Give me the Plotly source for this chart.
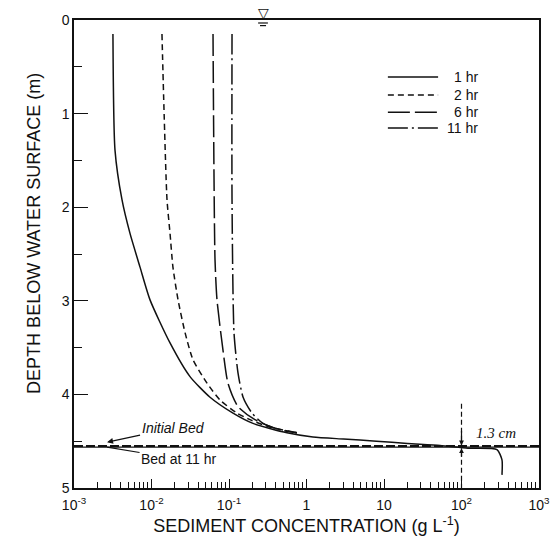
import plotly.graph_objects as go
import numpy as np

# ---- data ----
conc_1hr = [0.00318, 0.00338, 0.00416, 0.00528, 0.00711, 0.00957, 0.01734, 0.0314, 0.0569, 0.1127, 0.204, 0.56, 1.21, 3.0, 8.0, 20.0, 52.8, 121, 287, 333, 333]
depth_1hr = [0.15, 1.39, 1.92, 2.28, 2.64, 2.99, 3.45, 3.81, 4.03, 4.20, 4.31, 4.41, 4.455, 4.477, 4.50, 4.524, 4.545, 4.575, 4.59, 4.70, 4.86]

conc_2hr = [0.01365, 0.0145, 0.01585, 0.01734, 0.0189, 0.022, 0.0271, 0.0343, 0.052, 0.0766, 0.1268, 0.1866, 0.338, 0.753]
depth_2hr = [0.15, 0.96, 1.92, 2.28, 2.64, 2.99, 3.34, 3.63, 3.88, 4.06, 4.20, 4.27, 4.35, 4.41]

conc_6hr = [0.0622, 0.066, 0.070, 0.0837, 0.097, 0.1306, 0.216, 0.393, 0.753]
depth_6hr = [0.15, 2.56, 2.99, 3.53, 3.88, 4.13, 4.27, 4.36, 4.41]

conc_11hr = [0.1094, 0.1094, 0.116, 0.1306, 0.152, 0.198, 0.275, 0.455, 0.753]
depth_11hr = [0.15, 1.92, 3.34, 3.77, 4.03, 4.20, 4.31, 4.38, 4.41]

bed_conc = [1e-3, 1e3]
initial_bed_depth = [4.55, 4.55]
bed_11hr_depth = [4.563, 4.563]

marker_conc = [100, 100]
marker_depth = [4.1, 5.0]

series_names = ["1 hr", "2 hr", "6 hr", "11 hr"]
x_tick_vals = [1e-3, 1e-2, 1e-1, 1, 10, 1e2, 1e3]
x_tick_text = ["10<sup>-3</sup>", "10<sup>-2</sup>", "10<sup>-1</sup>", "1", "10", "10<sup>2</sup>", "10<sup>3</sup>"]
y_tick_vals = [0, 1, 2, 3, 4, 5]
y_minor_vals = [0.5, 1.5, 2.5, 3.5, 4.5]

x_minor_vals = [m * 10.0 ** e for e in range(-3, 3) for m in range(2, 10)]

# ---- styles ----
INK = "#111111"
FONT = "Liberation Sans, Arial, Helvetica, sans-serif"
dashes = ["solid", "6px,4px", "22px,5px", "20px,4px,2px,4px"]

fig = go.Figure()

series = [(conc_1hr, depth_1hr), (conc_2hr, depth_2hr), (conc_6hr, depth_6hr), (conc_11hr, depth_11hr)]
for (cx, dy), name, dsh in zip(series, series_names, dashes):
    fig.add_trace(go.Scatter(x=cx, y=dy, mode="lines", name=name,
                             line=dict(color=INK, width=1.5, dash=dsh, shape="spline", smoothing=0.6),
                             showlegend=False))

fig.add_trace(go.Scatter(x=bed_conc, y=initial_bed_depth, mode="lines",
                         line=dict(color=INK, width=2, dash="9px,3px"), showlegend=False))
fig.add_trace(go.Scatter(x=bed_conc, y=bed_11hr_depth, mode="lines",
                         line=dict(color=INK, width=1.3), showlegend=False))
fig.add_trace(go.Scatter(x=marker_conc, y=marker_depth, mode="lines",
                         line=dict(color=INK, width=1.2, dash="5px,3px"), showlegend=False))

fig.update_xaxes(type="log", range=[-3, 3], showgrid=False, zeroline=False, automargin=False,
                 showline=True, linecolor=INK, linewidth=1.5, mirror=True,
                 ticks="inside", ticklen=9, tickwidth=1.2, tickcolor=INK,
                 tickvals=x_tick_vals, ticktext=x_tick_text, ticklabelstandoff=3,
                 tickfont=dict(family=FONT, size=14, color=INK),
                 minor=dict(tickvals=x_minor_vals, ticks="inside", ticklen=6, tickwidth=1, tickcolor=INK),
                 title=dict(text="SEDIMENT CONCENTRATION (g L<sup>-1</sup>)",
                            font=dict(family=FONT, size=18, color=INK), standoff=8))
fig.update_yaxes(range=[5, 0], showgrid=False, zeroline=False, automargin=False,
                 showline=True, linecolor=INK, linewidth=1.5, mirror=True,
                 ticks="inside", ticklen=14, tickwidth=1.2, tickcolor=INK,
                 tickvals=y_tick_vals, ticktext=[str(v) for v in y_tick_vals],
                 tickfont=dict(family=FONT, size=14, color=INK),
                 minor=dict(tickvals=y_minor_vals, ticks="inside", ticklen=8, tickwidth=1, tickcolor=INK))

# y-axis title placed as in the reference (slightly above centre)
fig.add_annotation(xref="paper", yref="paper", x=-0.086, y=0.543, text="DEPTH BELOW WATER SURFACE (m)",
                   textangle=-90, showarrow=False, xanchor="center", yanchor="middle",
                   font=dict(family=FONT, size=18, color=INK))

# ---- legend drawn by hand ----
leg_y = [0.878, 0.840, 0.803, 0.769]
for name, dsh, yy in zip(series_names, dashes, leg_y):
    fig.add_shape(type="line", xref="paper", yref="paper", x0=0.675, x1=0.783, y0=yy, y1=yy,
                  line=dict(color=INK, width=1.5, dash=dsh))
    fig.add_annotation(xref="paper", yref="paper", x=0.874, y=yy, text=name, showarrow=False,
                       xanchor="right", yanchor="middle", font=dict(family=FONT, size=14, color=INK))

# ---- annotations ----
fig.add_annotation(x=np.log10(0.00267), y=4.51, xref="x", yref="y", text="<i>Initial Bed</i>",
                   showarrow=True, arrowhead=2, arrowsize=1, arrowwidth=1.2, arrowcolor=INK,
                   ax=66, ay=-14, font=dict(family=FONT, size=14, color=INK))
fig.add_annotation(x=np.log10(0.00267), y=4.563, xref="x", yref="y", text="Bed at 11 hr",
                   showarrow=True, arrowhead=0, arrowwidth=1.2, arrowcolor=INK,
                   ax=72, ay=12, font=dict(family=FONT, size=14, color=INK))
fig.add_annotation(x=2, y=4.545, xref="x", yref="y", text="", showarrow=True,
                   arrowhead=2, arrowsize=0.8, arrowwidth=1.2, arrowcolor=INK, ax=0, ay=-16)
fig.add_annotation(x=2, y=4.575, xref="x", yref="y", text="", showarrow=True,
                   arrowhead=2, arrowsize=0.8, arrowwidth=1.2, arrowcolor=INK, ax=0, ay=10)
fig.add_annotation(x=2.44, y=4.41, xref="x", yref="y", text="<i>1.3 cm</i>", showarrow=False,
                   font=dict(family="Liberation Serif, Times New Roman, serif", size=15, color=INK))

# water surface symbol
fig.add_annotation(xref="paper", yref="paper", x=0.4065, y=1.0, text="▽", showarrow=False,
                   yanchor="bottom", yshift=-3, font=dict(family="DejaVu Sans", size=14, color=INK))
fig.add_shape(type="line", xref="paper", yref="paper", x0=0.396, x1=0.417, y0=0.9936, y1=0.9936,
              line=dict(color=INK, width=1.2))
fig.add_shape(type="line", xref="paper", yref="paper", x0=0.400, x1=0.413, y0=0.988, y1=0.988,
              line=dict(color=INK, width=1.2))

fig.update_layout(width=552, height=544, margin=dict(l=74, r=13, t=20, b=56),
                  paper_bgcolor="white", plot_bgcolor="white", showlegend=False)

fig.write_html("out.html")
